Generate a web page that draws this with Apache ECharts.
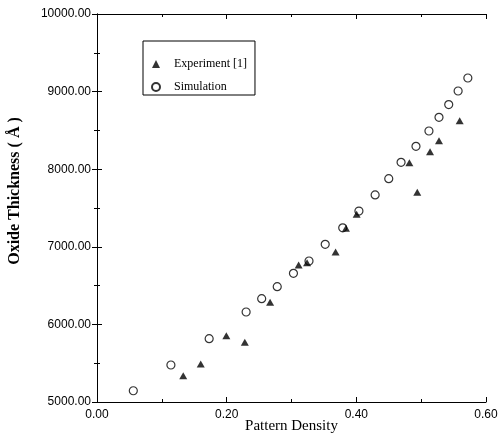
<!DOCTYPE html>
<html>
<head>
<meta charset="utf-8">
<script src="https://cdn.jsdelivr.net/npm/echarts@6/dist/echarts.min.js"></script>
<style>html,body{margin:0;padding:0;background:#fff;}#c{width:498px;height:437px;}</style>
</head>
<body>
<div id="c"></div>
<script>
const expX = [0.133, 0.160, 0.1995, 0.228, 0.267, 0.311, 0.324, 0.368, 0.384, 0.4005, 0.4818, 0.494, 0.5137, 0.5275, 0.5594];
const expY = [5339, 5490, 5854, 5769, 6285, 6765, 6795, 6933, 7238, 7418, 8084, 7702, 8225, 8367, 8625];
const simX = [0.056, 0.114, 0.173, 0.230, 0.254, 0.278, 0.303, 0.327, 0.352, 0.379, 0.404, 0.429, 0.450, 0.469, 0.492, 0.512, 0.5275, 0.5425, 0.557, 0.572];
const simY = [5145, 5477, 5816, 6160, 6331, 6486, 6658, 6817, 7032, 7245, 7461, 7668, 7878, 8089, 8295, 8492, 8669, 8833, 9008, 9175];
const seriesNames = ['Experiment [1]', 'Simulation'];
const xTitle = 'Pattern Density';
const yTitle = 'Oxide Thickness ( Å )';

const zip = (a, b) => a.map((v, i) => [v, b[i]]);
const chart = echarts.init(document.getElementById('c'), null, {renderer: 'canvas'});
const lineStyle = {color: '#000', width: 1};
const tickLabel = {fontFamily: 'Liberation Sans', fontSize: 12, color: '#000'};
chart.setOption({
  animation: false,
  backgroundColor: '#fff',
  grid: {left: 97, right: 12, top: 14, bottom: 35, outerBoundsMode: 'none', containLabel: false},
  legend: {
    left: 143, top: 41, orient: 'vertical',
    backgroundColor: '#fff',
    borderColor: '#000', borderWidth: 1,
    padding: [17, 8, 2, 8],
    itemWidth: 8, itemHeight: 8, itemGap: 11,
    textStyle: {fontFamily: 'Liberation Serif', fontSize: 12, color: '#000', padding: [0, 0, 0, 9]},
    data: seriesNames
  },
  xAxis: [{
    type: 'value', min: 0, max: 0.6, interval: 0.2,
    name: xTitle, nameLocation: 'middle', nameGap: 17, nameMoveOverlap: false,
    nameTextStyle: {fontFamily: 'Liberation Serif', fontSize: 15, color: '#000'},
    axisLine: {show: true, lineStyle},
    axisTick: {show: true, inside: true, length: 5, lineStyle},
    minorTick: {show: true, splitNumber: 2, length: 3, lineStyle},
    axisLabel: Object.assign({margin: 7, formatter: v => v.toFixed(2)}, tickLabel),
    splitLine: {show: false}
  }, {
    type: 'value', min: 0, max: 0.6, interval: 0.2, position: 'top',
    axisLine: {show: true, lineStyle},
    axisTick: {show: true, inside: true, length: 5, lineStyle},
    minorTick: {show: true, splitNumber: 2, length: 3, lineStyle},
    axisLabel: {show: false},
    splitLine: {show: false}
  }],
  yAxis: [{
    type: 'value', min: 5000, max: 10000, interval: 1000,
    name: yTitle, nameLocation: 'middle', nameGap: 74, nameRotate: 90, nameMoveOverlap: false,
    nameTextStyle: {fontFamily: 'Liberation Serif', fontSize: 16, fontWeight: 'bold', color: '#000', padding: [0, 0, 0, 34]},
    axisLine: {show: true, lineStyle},
    axisTick: {show: true, inside: true, length: 5, lineStyle},
    minorTick: {show: true, splitNumber: 2, length: 3, lineStyle},
    axisLabel: Object.assign({margin: 6, formatter: v => v.toFixed(2)}, tickLabel),
    splitLine: {show: false}
  }, {
    type: 'value', min: 5000, max: 10000, interval: 1000, position: 'right',
    axisLine: {show: true, lineStyle},
    axisTick: {show: true, inside: true, length: 5, lineStyle},
    minorTick: {show: true, splitNumber: 2, length: 3, lineStyle},
    axisLabel: {show: false},
    splitLine: {show: false}
  }],
  series: [{
    name: seriesNames[0], type: 'scatter', z: 3,
    symbol: 'triangle', symbolSize: [8, 7],
    itemStyle: {color: '#000'},
    data: zip(expX, expY)
  }, {
    name: seriesNames[1], type: 'scatter', z: 2,
    symbol: 'circle', symbolSize: 8,
    itemStyle: {color: '#fff', borderColor: '#000', borderWidth: 1.2},
    data: zip(simX, simY)
  }]
});
</script>
</body>
</html>
